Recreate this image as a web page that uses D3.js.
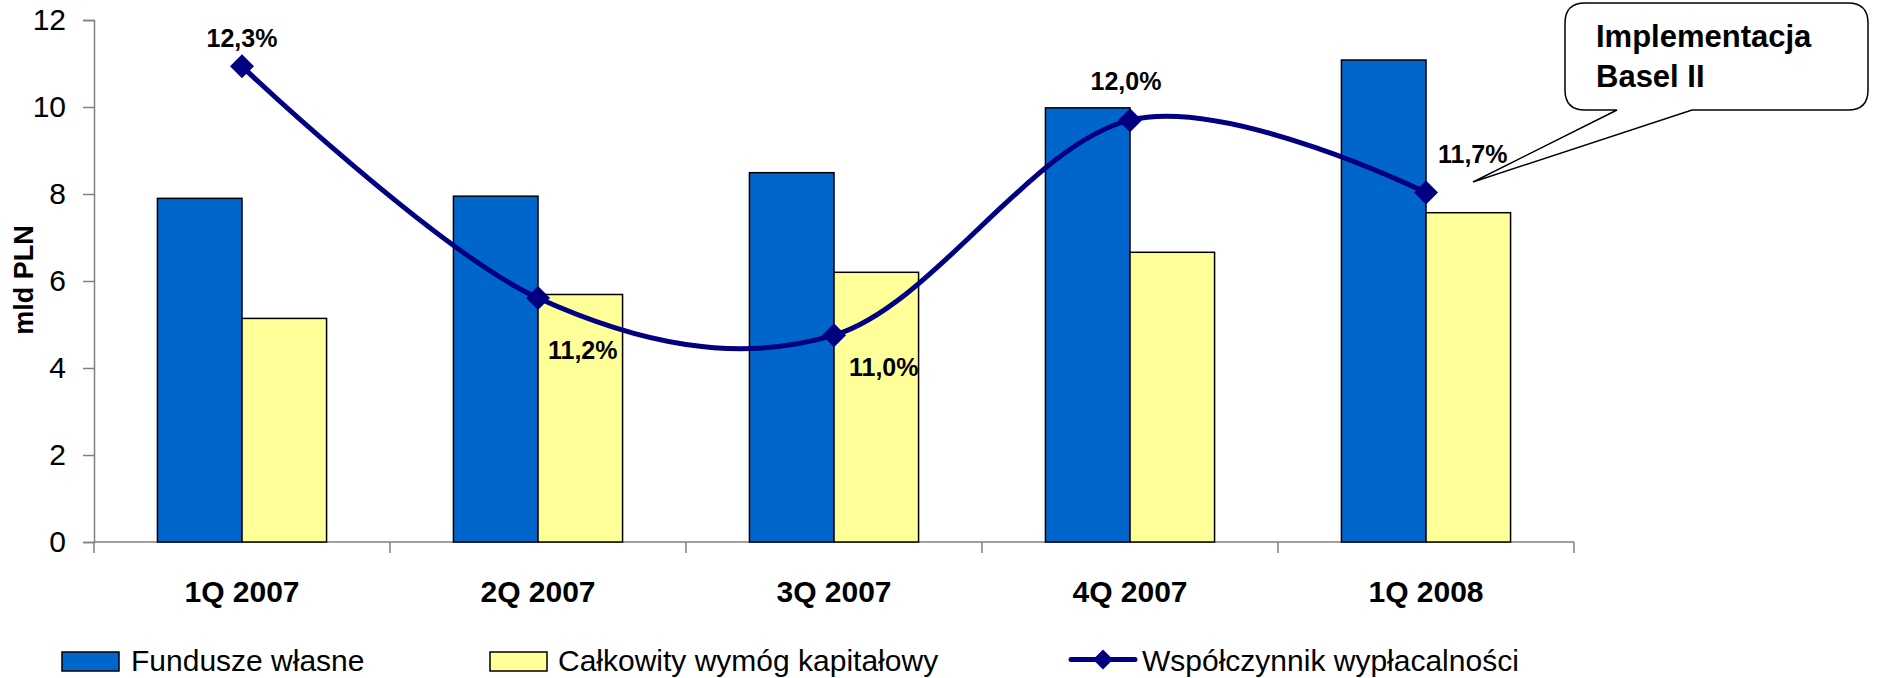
<!DOCTYPE html>
<html>
<head>
<meta charset="utf-8">
<script src="https://cdn.jsdelivr.net/npm/d3@7"></script>
<style>
  html, body { margin: 0; padding: 0; background: #fff; }
  svg { display: block; font-family: "Liberation Sans", Arial, sans-serif; }
</style>
</head>
<body>
<svg id="chart" width="1883" height="678"></svg>
<script>
// ---- data ----
const categories = ["1Q 2007", "2Q 2007", "3Q 2007", "4Q 2007", "1Q 2008"];
const fundsValues = [7.90, 7.95, 8.49, 9.98, 11.08];          // Fundusze własne (mld PLN)
const requirementValues = [5.14, 5.69, 6.20, 6.66, 7.57];     // Całkowity wymóg kapitałowy (mld PLN)
const ratioValues = [12.3, 11.18, 11.0, 12.04, 11.69];        // Współczynnik wypłacalności (%)
const yTicks = [0, 2, 4, 6, 8, 10, 12];
const seriesNames = ["Fundusze własne", "Całkowity wymóg kapitałowy", "Współczynnik wypłacalności"];
const yTitle = "mld PLN";
const calloutLines = ["Implementacja", "Basel II"];

// ---- style ----
const BLUE = "#0066CC", YELLOW = "#FFFF99", NAVY = "#000080", AXIS = "#808080";
const FONT = '"Liberation Sans", Arial, sans-serif';

const svg = d3.select("#chart");
const plotLeft = 94, plotRight = 1574, plotTop = 20, plotBottom = 542;

const x = d3.scaleBand().domain(categories).range([plotLeft, plotRight]).paddingInner(0).paddingOuter(0);
const inner = d3.scaleBand().domain([0, 1]).range([0, x.bandwidth()]).paddingInner(0).paddingOuter(0.75);
const y = d3.scaleLinear().domain([0, 12]).range([plotBottom, plotTop]);
const y2 = d3.scaleLinear().domain([10, 12.5]).range([plotBottom, 25]); // hidden secondary axis

function diamondPath(h) {
  return `M0,${-h}L${h},0L0,${h}L${-h},0Z`;
}

// Y axis
const yAxis = d3.axisLeft(y).tickValues(yTicks).tickSize(11).tickPadding(17).tickFormat(d3.format("d"));
const gy = svg.append("g").attr("transform", `translate(${plotLeft},0)`).call(yAxis);
gy.select(".domain").attr("stroke", AXIS).attr("stroke-width", 1.5);
gy.selectAll(".tick line").attr("stroke", AXIS).attr("stroke-width", 1.5);
gy.selectAll(".tick text").attr("font-family", FONT).attr("font-size", 30).attr("fill", "#000");

// X axis (ticks between categories)
const gx = svg.append("g");
gx.append("line").attr("x1", plotLeft).attr("x2", plotRight).attr("y1", plotBottom).attr("y2", plotBottom)
  .attr("stroke", AXIS).attr("stroke-width", 1.5);
const boundaries = categories.map(c => x(c)).concat([x(categories[categories.length - 1]) + x.bandwidth()]);
gx.selectAll("line.tk").data(boundaries).join("line").attr("class", "tk")
  .attr("x1", d => d).attr("x2", d => d).attr("y1", plotBottom).attr("y2", plotBottom + 11)
  .attr("stroke", AXIS).attr("stroke-width", 1.5);
gx.selectAll("text").data(categories).join("text")
  .attr("x", d => x(d) + x.bandwidth() / 2).attr("y", 602)
  .attr("text-anchor", "middle").attr("font-family", FONT).attr("font-weight", "bold")
  .attr("font-size", 30).text(d => d);

// Y title
svg.append("text").attr("transform", "translate(33,280) rotate(-90)")
  .attr("text-anchor", "middle").attr("font-family", FONT).attr("font-weight", "bold")
  .attr("font-size", 27).text(yTitle);

// Bars
const bars = svg.append("g");
bars.selectAll("rect.f").data(fundsValues).join("rect").attr("class", "f")
  .attr("x", (d, i) => x(categories[i]) + inner(0)).attr("width", inner.bandwidth())
  .attr("y", d => y(d)).attr("height", d => y(0) - y(d))
  .attr("fill", BLUE).attr("stroke", "#000").attr("stroke-width", 1.5);
bars.selectAll("rect.r").data(requirementValues).join("rect").attr("class", "r")
  .attr("x", (d, i) => x(categories[i]) + inner(1)).attr("width", inner.bandwidth())
  .attr("y", d => y(d)).attr("height", d => y(0) - y(d))
  .attr("fill", YELLOW).attr("stroke", "#000").attr("stroke-width", 1.5);

// Line
const pts = ratioValues.map((v, i) => [x(categories[i]) + x.bandwidth() / 2, y2(v)]);
svg.append("path").attr("d", d3.line().curve(d3.curveCardinal.tension(0))(pts))
  .attr("fill", "none").attr("stroke", NAVY).attr("stroke-width", 5).attr("stroke-linejoin", "round");
svg.selectAll("path.mk").data(pts).join("path").attr("class", "mk")
  .attr("transform", d => `translate(${d[0]},${d[1]})`).attr("d", diamondPath(12)).attr("fill", NAVY);

// Data labels
const fmt = v => d3.format(".1f")(v).replace(".", ",") + "%";
const labelOffsets = [[0, -19, "middle"], [10, 61, "start"], [15, 41, "start"], [-4, -30, "middle"], [12, -30, "start"]];
svg.selectAll("text.lbl").data(ratioValues).join("text").attr("class", "lbl")
  .attr("x", (d, i) => pts[i][0] + labelOffsets[i][0])
  .attr("y", (d, i) => pts[i][1] + labelOffsets[i][1])
  .attr("text-anchor", (d, i) => labelOffsets[i][2])
  .attr("font-family", FONT).attr("font-weight", "bold").attr("font-size", 25).text(d => fmt(d));

// Callout
const cx0 = 1565, cy0 = 3, cx1 = 1868, cy1 = 110, r = 20;
const tip = [1473, 182], b1 = 1617, b2 = 1692;
const cp = d3.path();
cp.moveTo(cx0 + r, cy0);
cp.lineTo(cx1 - r, cy0); cp.quadraticCurveTo(cx1, cy0, cx1, cy0 + r);
cp.lineTo(cx1, cy1 - r); cp.quadraticCurveTo(cx1, cy1, cx1 - r, cy1);
cp.lineTo(b2, cy1); cp.lineTo(tip[0], tip[1]); cp.lineTo(b1, cy1);
cp.lineTo(cx0 + r, cy1); cp.quadraticCurveTo(cx0, cy1, cx0, cy1 - r);
cp.lineTo(cx0, cy0 + r); cp.quadraticCurveTo(cx0, cy0, cx0 + r, cy0);
cp.closePath();
svg.append("path").attr("d", cp.toString()).attr("fill", "#fff").attr("stroke", "#000").attr("stroke-width", 1.5);
svg.selectAll("text.co").data(calloutLines).join("text").attr("class", "co")
  .attr("x", 1596).attr("y", (d, i) => 47 + i * 40)
  .attr("font-family", FONT).attr("font-weight", "bold").attr("font-size", 31).text(d => d);

// Legend
const lg = svg.append("g");
const lgY = 652, lgH = 19;
lg.append("rect").attr("x", 62).attr("y", lgY).attr("width", 57).attr("height", lgH)
  .attr("fill", BLUE).attr("stroke", "#000").attr("stroke-width", 1.5);
lg.append("text").attr("x", 131).attr("y", 671).attr("font-family", FONT).attr("font-size", 30).text(seriesNames[0]);
lg.append("rect").attr("x", 490).attr("y", lgY).attr("width", 57).attr("height", lgH)
  .attr("fill", YELLOW).attr("stroke", "#000").attr("stroke-width", 1.5);
lg.append("text").attr("x", 558).attr("y", 671).attr("font-family", FONT).attr("font-size", 30).text(seriesNames[1]);
lg.append("line").attr("x1", 1071).attr("x2", 1135).attr("y1", 659.5).attr("y2", 659.5)
  .attr("stroke", NAVY).attr("stroke-width", 5).attr("stroke-linecap", "round");
lg.append("path").attr("transform", "translate(1103,659.5)").attr("d", diamondPath(10)).attr("fill", NAVY);
lg.append("text").attr("x", 1142).attr("y", 671).attr("font-family", FONT).attr("font-size", 30).text(seriesNames[2]);
</script>
</body>
</html>
